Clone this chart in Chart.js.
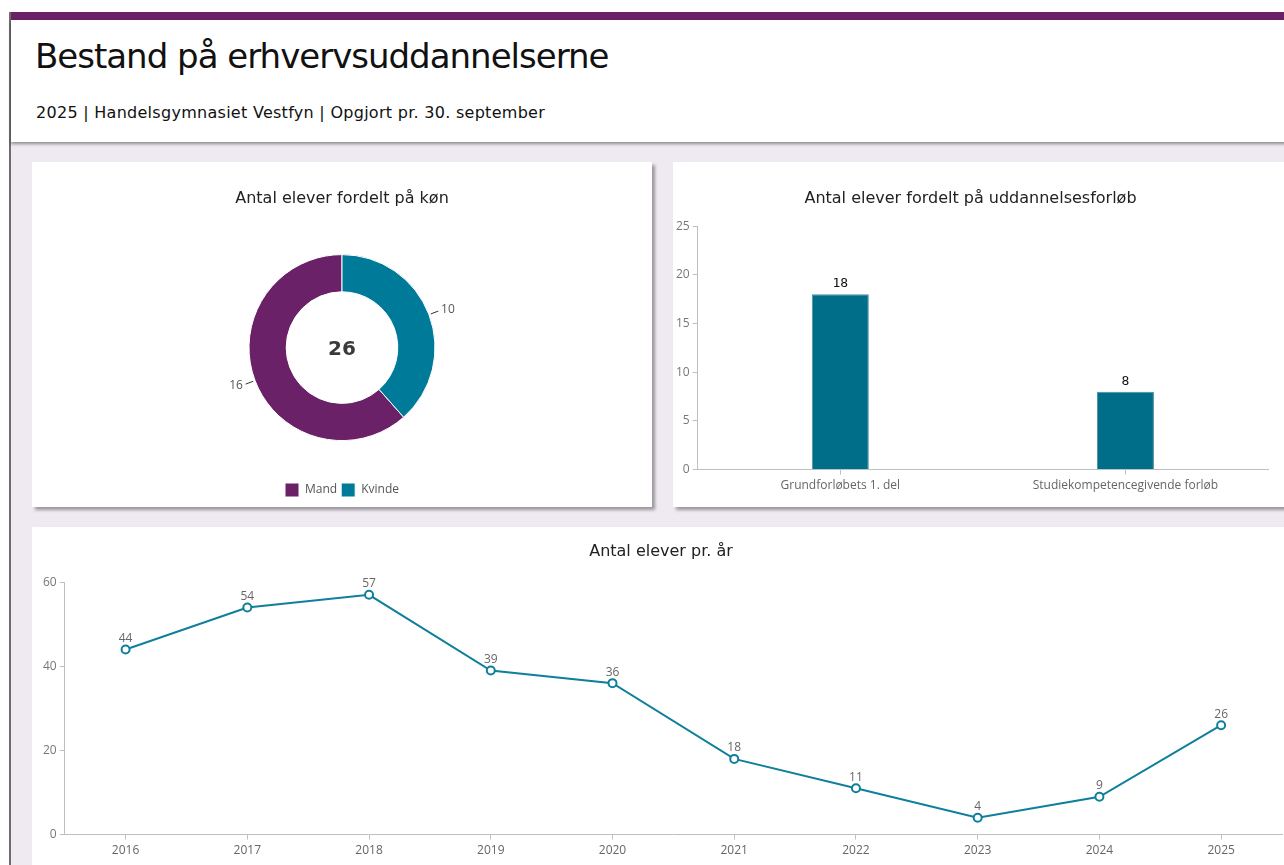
<!DOCTYPE html>
<html>
<head>
<meta charset="utf-8">
<script src="https://cdn.jsdelivr.net/npm/chart.js@4"></script>
<style>
  html, body { margin: 0; padding: 0; background: #fff; overflow: hidden; width: 1284px; height: 865px; }
  #frame { position: absolute; left: 9px; top: 12px; width: 1400px; height: 900px; border-left: 2px solid #6d6d6d; background: #efe9f1; }
  #topbar { height: 8px; background: #6a2167; }
  #header { position: relative; height: 122px; background: #fff; box-shadow: 0 2px 3px rgba(0,0,0,0.4); }
  #header h1 { position: absolute; left: 24px; top: 16px; margin: 0; font: normal 34px 'DejaVu Sans', Verdana, sans-serif; letter-spacing: -1px; color: #111; }
  #header p { position: absolute; left: 25px; top: 83px; margin: 0; font: normal 16px 'DejaVu Sans', Verdana, sans-serif; letter-spacing: 0.28px; color: #111; }
  .card { position: absolute; background: #fff; box-shadow: 3px 3px 3px rgba(0,0,0,0.35); }
  .card canvas { display: block; }
</style>
</head>
<body>
<div id="frame">
  <div id="topbar"></div>
  <div id="header">
    <h1>Bestand på erhvervsuddannelserne</h1>
    <p>2025 | Handelsgymnasiet Vestfyn | Opgjort pr. 30. september</p>
  </div>
</div>
<div class="card" style="left:32px; top:162px; width:620px; height:345px;"><canvas id="donut"></canvas></div>
<div class="card" style="left:673px; top:162px; width:620px; height:345px;"><canvas id="bars"></canvas></div>
<div class="card" style="left:32px; top:527px; width:1261px; height:355px;"><canvas id="line"></canvas></div>

<script>
// data
const genderLabels = ['Mand', 'Kvinde'];
const genderValues = [16, 10];
const genderColors = ['#6a2167', '#007a99'];

const courseLabels = ['Grundforløbets 1. del', 'Studiekompetencegivende forløb'];
const courseValues = [18, 8];

const years = ['2016', '2017', '2018', '2019', '2020', '2021', '2022', '2023', '2024', '2025'];
const yearValues = [44, 54, 57, 39, 36, 18, 11, 4, 9, 26];

const titleFont = { family: "'DejaVu Sans', Verdana, sans-serif", size: 16, weight: 'normal' };
Chart.defaults.font.family = "'Open Sans', sans-serif";
Chart.defaults.color = '#666';
Chart.defaults.animation = false;
Chart.defaults.maintainAspectRatio = false;

function sizeCanvas(id) {
    const c = document.getElementById(id);
    const p = c.parentNode;
    c.width = p.clientWidth;
    c.height = p.clientHeight;
    c.style.width = p.clientWidth + 'px';
    c.style.height = p.clientHeight + 'px';
    return c;
}

// donut: outside labels with short leader lines + total in the middle
const donutLabels = {
    id: 'donutLabels',
    afterDatasetsDraw(chart) {
        const ctx = chart.ctx;
        const meta = chart.getDatasetMeta(0);
        ctx.save();
        meta.data.forEach((arc, i) => {
            const mid = (arc.startAngle + arc.endAngle) / 2;
            const r = arc.outerRadius;
            const cos = Math.cos(mid), sin = Math.sin(mid);
            ctx.strokeStyle = '#333';
            ctx.lineWidth = 1;
            ctx.beginPath();
            ctx.moveTo(arc.x + cos * (r + 2), arc.y + sin * (r + 2));
            ctx.lineTo(arc.x + cos * (r + 10), arc.y + sin * (r + 10));
            ctx.stroke();
            ctx.fillStyle = '#555';
            ctx.font = "12px 'Open Sans', sans-serif";
            ctx.textBaseline = 'middle';
            ctx.textAlign = cos >= 0 ? 'left' : 'right';
            ctx.fillText(genderValues[i], arc.x + cos * (r + 13), arc.y + sin * (r + 13));
        });
        const first = meta.data[0];
        ctx.fillStyle = '#3a3a3a';
        ctx.font = "bold 20px 'DejaVu Sans', Verdana, sans-serif";
        ctx.textAlign = 'center';
        ctx.textBaseline = 'middle';
        ctx.fillText(genderValues.reduce((a, b) => a + b, 0), first.x, first.y + 2);
        ctx.restore();
    }
};

const total = genderValues.reduce((a, b) => a + b, 0);
new Chart(sizeCanvas('donut'), {
    type: 'doughnut',
    data: {
        labels: genderLabels,
        datasets: [{ data: genderValues, backgroundColor: genderColors, borderColor: '#fff', borderWidth: 1 }]
    },
    options: {
        responsive: false,
        radius: 93,
        cutout: '60%',
        rotation: 360 * genderValues[1] / total,
        layout: { padding: { top: 20, bottom: 0 } },
        plugins: {
            title: { display: true, text: 'Antal elever fordelt på køn', color: '#222', font: titleFont, padding: { top: 7, bottom: 8 } },
            legend: {
                position: 'bottom',
                labels: { boxWidth: 14, boxHeight: 14, padding: 4, color: '#555', font: { size: 12 } }
            },
            tooltip: { enabled: false }
        }
    },
    plugins: [donutLabels]
});

// value labels above bars / points
const valueLabels = {
    id: 'valueLabels',
    afterDatasetsDraw(chart, args, opts) {
        const ctx = chart.ctx;
        const vals = chart.data.datasets[0].data;
        ctx.save();
        ctx.fillStyle = opts.color;
        ctx.font = opts.font;
        ctx.textAlign = 'center';
        ctx.textBaseline = 'bottom';
        chart.getDatasetMeta(0).data.forEach((el, i) => {
            ctx.fillText(vals[i], el.x, el.y - opts.offset);
        });
        ctx.restore();
    }
};

const axisGrey = '#b9c0c8';

new Chart(sizeCanvas('bars'), {
    type: 'bar',
    data: {
        labels: courseLabels,
        datasets: [{ data: courseValues, backgroundColor: '#006e89', borderColor: '#4a8fa3', borderWidth: 1, categoryPercentage: 1, barPercentage: 0.2 }]
    },
    options: {
        responsive: false,
        layout: { padding: { top: 20, left: 0, right: 25, bottom: 10 } },
        scales: {
            x: {
                grid: { display: true, drawOnChartArea: false, drawTicks: true, tickLength: 5, color: axisGrey, offset: false },
                border: { color: axisGrey },
                ticks: { color: '#666', font: { size: 12 }, padding: 4 }
            },
            y: {
                min: 0, max: 25,
                grid: { display: true, drawOnChartArea: false, drawTicks: true, tickLength: 5, color: axisGrey },
                border: { color: axisGrey },
                ticks: { stepSize: 5, color: '#777', font: { size: 12 }, padding: 3 }
            }
        },
        plugins: {
            title: { display: true, text: 'Antal elever fordelt på uddannelsesforløb', color: '#222', font: titleFont, padding: { top: 7, bottom: 18 } },
            legend: { display: false },
            tooltip: { enabled: false },
            valueLabels: { color: '#111', font: "13px 'DejaVu Sans Mono', monospace", offset: 4 }
        }
    },
    plugins: [valueLabels]
});

new Chart(sizeCanvas('line'), {
    type: 'line',
    data: {
        labels: years,
        datasets: [{
            data: yearValues,
            borderColor: '#0f7f9b',
            borderWidth: 2,
            pointRadius: 4,
            pointBorderWidth: 2,
            pointBackgroundColor: '#fff',
            pointBorderColor: '#0f7f9b',
            tension: 0
        }]
    },
    options: {
        responsive: false,
        layout: { padding: { top: 12, left: 8, right: 11, bottom: 20 } },
        scales: {
            x: {
                offset: true,
                grid: { display: true, drawOnChartArea: false, drawTicks: true, tickLength: 5, color: axisGrey, offset: false },
                border: { color: axisGrey },
                ticks: { color: '#666', font: { size: 12 }, padding: 4 }
            },
            y: {
                min: 0, max: 60,
                grid: { display: true, drawOnChartArea: false, drawTicks: true, tickLength: 5, color: axisGrey },
                border: { color: axisGrey },
                ticks: { stepSize: 20, color: '#777', font: { size: 12 }, padding: 3 }
            }
        },
        plugins: {
            title: { display: true, text: 'Antal elever pr. år', color: '#222', font: titleFont, padding: { top: 3, bottom: 21 } },
            legend: { display: false },
            tooltip: { enabled: false },
            valueLabels: { color: '#666', font: "12px 'Open Sans', sans-serif", offset: 5 }
        }
    },
    plugins: [valueLabels]
});
</script>
</body>
</html>
